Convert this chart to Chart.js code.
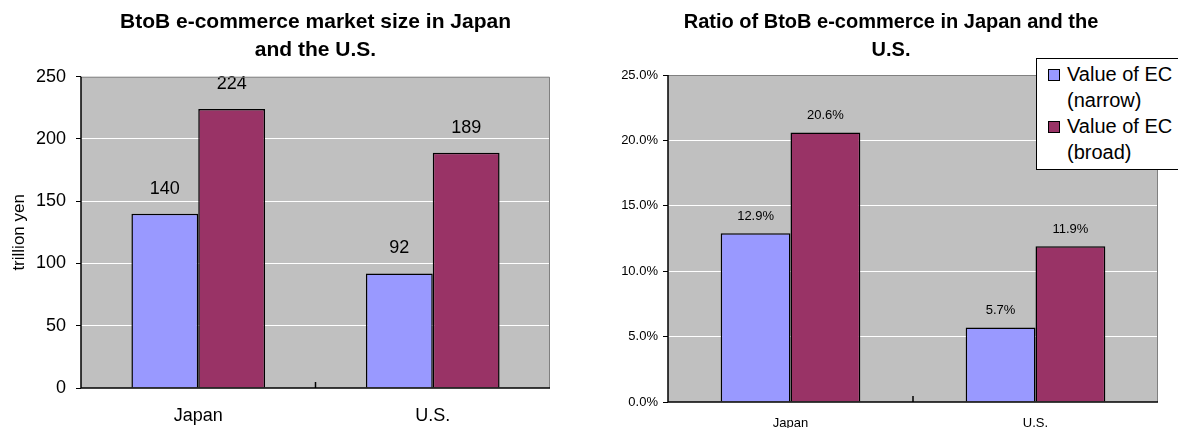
<!DOCTYPE html>
<html>
<head>
<meta charset="utf-8">
<title>BtoB e-commerce in Japan and the U.S.</title>
<script src="https://cdn.jsdelivr.net/npm/chart.js@4.4.0/dist/chart.umd.min.js"></script>
<style>
  html, body { margin: 0; padding: 0; background: #fff; overflow: hidden; }
  body { width: 1178px; height: 428px; position: relative; font-family: "Liberation Sans", Arial, sans-serif; }
  .box { position: absolute; top: 0; height: 428px; }
  #leftBox { left: 0; width: 560px; }
  #rightBox { left: 604px; width: 574px; }
  #legend {
    position: absolute; left: 1036px; top: 58px; width: 170px; height: 112px;
    box-sizing: border-box; border: 1px solid #000; background: #fff;
    padding-top: 2px; font-size: 20px; line-height: 26px; color: #000;
  }
  .item { position: relative; padding-left: 30px; }
  .sw { position: absolute; left: 11px; top: 8px; width: 10px; height: 10px; border: 1px solid #000; }
</style>
</head>
<body>
<div class="box" id="leftBox"><canvas id="marketChart"></canvas></div>
<div class="box" id="rightBox"><canvas id="ratioChart"></canvas></div>
<div id="legend"></div>
<script>
(function () {
  "use strict";

  // ---- data ----
  const categories = ["Japan", "U.S."];
  const seriesNames = [["Value of EC", "(narrow)"], ["Value of EC", "(broad)"]];
  const seriesColors = ["#9999ff", "#993366"];

  const marketNarrow = [140, 92];
  const marketBroad = [224, 189];
  const marketMax = 250;
  const marketStep = 50;

  const ratioNarrow = [12.9, 5.7];
  const ratioBroad = [20.6, 11.9];
  const ratioMax = 25;
  const ratioStep = 5;

  const FONT = '"Liberation Sans", Arial, sans-serif';
  Chart.defaults.font.family = FONT;
  Chart.defaults.color = "#000";

  // grey plot area + frame like the old spreadsheet charts
  const plotFrame = {
    id: "plotFrame",
    beforeDraw(chart) {
      const { ctx, chartArea: a } = chart;
      ctx.save();
      ctx.fillStyle = "#c0c0c0";
      ctx.fillRect(a.left, a.top, a.width, a.height);
      ctx.restore();
    },
    afterDraw(chart) {
      const { ctx, chartArea: a, scales } = chart;
      ctx.save();
      ctx.lineWidth = 1;
      ctx.strokeStyle = "#808080";
      ctx.beginPath();
      ctx.moveTo(a.left, a.top + 0.5);
      ctx.lineTo(a.right - 0.5, a.top + 0.5);
      ctx.lineTo(a.right - 0.5, a.bottom);
      ctx.stroke();
      ctx.strokeStyle = "#000";
      ctx.lineWidth = 1.5;
      ctx.beginPath();
      ctx.moveTo(a.left, a.top);
      ctx.lineTo(a.left, a.bottom);
      ctx.lineTo(a.right, a.bottom);
      ctx.stroke();
      // small tick between the two categories
      const mid = scales.x.getPixelForValue(0.5);
      ctx.beginPath();
      ctx.moveTo(mid, a.bottom);
      ctx.lineTo(mid, a.bottom - 6);
      ctx.stroke();
      ctx.restore();
    }
  };

  const barValues = {
    id: "barValues",
    afterDatasetsDraw(chart, args, opts) {
      const { ctx } = chart;
      ctx.save();
      ctx.font = opts.size + "px " + FONT;
      ctx.fillStyle = "#000";
      ctx.textAlign = "center";
      ctx.textBaseline = "middle";
      chart.data.datasets.forEach((ds, i) => {
        chart.getDatasetMeta(i).data.forEach((bar, j) => {
          ctx.fillText(opts.format(ds.data[j]), bar.x, bar.y - opts.offset);
        });
      });
      ctx.restore();
    }
  };

  function makeDatasets(narrow, broad) {
    return [narrow, broad].map((data, i) => ({
      label: seriesNames[i].join(" "),
      data,
      backgroundColor: seriesColors[i],
      borderColor: "#000",
      borderWidth: 1.5,
      categoryPercentage: 0.57,
      barPercentage: 1
    }));
  }

  // ---- left: market size ----
  new Chart(document.getElementById("marketChart"), {
    type: "bar",
    data: { labels: categories, datasets: makeDatasets(marketNarrow, marketBroad) },
    plugins: [plotFrame, barValues],
    options: {
      responsive: true,
      maintainAspectRatio: false,
      animation: false,
      layout: { padding: { left: 0, right: 10, top: 0, bottom: 0 } },
      plugins: {
        legend: { display: false },
        tooltip: { enabled: false },
        title: {
          display: true,
          fullSize: false,
          text: ["BtoB e-commerce market size in Japan", "and the U.S."],
          color: "#000",
          font: { size: 21, weight: "bold", lineHeight: 1.35 },
          padding: { top: 8, bottom: 12 }
        },
        barValues: { size: 18, offset: 25, format: v => String(v) }
      },
      scales: {
        x: {
          grid: { display: false },
          border: { display: false },
          ticks: { color: "#000", font: { size: 18 }, padding: 9 },
          afterFit(s) { s.height = 40; }
        },
        y: {
          min: 0,
          max: marketMax,
          ticks: { stepSize: marketStep, color: "#000", font: { size: 18 }, padding: 10 },
          grid: { color: "#ffffff", tickColor: "#000", tickLength: 5 },
          border: { display: false },
          title: {
            display: true,
            text: "trillion yen",
            color: "#000",
            font: { size: 17 },
            padding: { top: 9, bottom: 0 }
          },
          afterFit(s) { s.width = 81; }
        }
      }
    }
  });

  // ---- right: ratio ----
  new Chart(document.getElementById("ratioChart"), {
    type: "bar",
    data: { labels: categories, datasets: makeDatasets(ratioNarrow, ratioBroad) },
    plugins: [plotFrame, barValues],
    options: {
      responsive: true,
      maintainAspectRatio: false,
      animation: false,
      layout: { padding: 0 },
      plugins: {
        legend: { display: false },
        tooltip: { enabled: false },
        title: {
          display: true,
          fullSize: true,
          text: ["Ratio of BtoB e-commerce in Japan and the", "U.S."],
          color: "#000",
          font: { size: 20, weight: "bold", lineHeight: 1.4 },
          padding: { top: 8, bottom: 11 }
        },
        barValues: { size: 13, offset: 17, format: v => v.toFixed(1) + "%" }
      },
      scales: {
        x: {
          grid: { display: false },
          border: { display: false },
          ticks: { color: "#000", font: { size: 13 }, padding: 6 },
          afterFit(s) { s.height = 26; }
        },
        y: {
          min: 0,
          max: ratioMax,
          ticks: {
            stepSize: ratioStep,
            color: "#000",
            font: { size: 13 },
            padding: 5,
            callback: v => v.toFixed(1) + "%"
          },
          grid: { color: "#ffffff", tickColor: "#000", tickLength: 5 },
          border: { display: false },
          afterFit(s) { s.width = 64; }
        },
        // empty strip on the right so the title stays centred on the whole panel
        pad: {
          type: "linear",
          position: "right",
          grid: { display: false },
          ticks: { display: false },
          border: { display: false },
          afterFit(s) { s.width = 20; }
        }
      }
    }
  });

  // ---- legend (two-line labels) ----
  const legend = document.getElementById("legend");
  seriesNames.forEach((lines, i) => {
    const item = document.createElement("div");
    item.className = "item";
    item.innerHTML = '<span class="sw" style="background:' + seriesColors[i] + '"></span>' +
      lines.map(t => "<div>" + t + "</div>").join("");
    legend.appendChild(item);
  });
})();
</script>
</body>
</html>
